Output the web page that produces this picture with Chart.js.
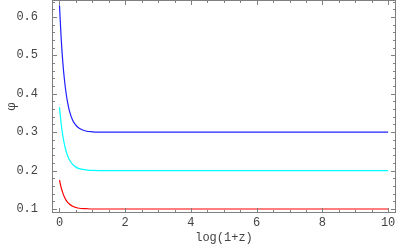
<!DOCTYPE html>
<html><head><meta charset="utf-8">
<script src="https://cdn.jsdelivr.net/npm/chart.js@4"></script>
<style>html,body{margin:0;padding:0;background:#fff}#wrap{width:400px;height:247px}</style>
</head><body><div id="wrap"><canvas id="c" width="400" height="247"></canvas></div>
<script>
const xs = [0, 0.05, 0.1, 0.15, 0.2, 0.25, 0.3, 0.4, 0.5, 0.6, 0.8, 1.0, 1.5, 2, 4, 6, 8, 10];
const blue = [0.630, 0.546, 0.483, 0.437, 0.402, 0.376, 0.356, 0.331, 0.318, 0.310, 0.303, 0.301, 0.300, 0.300, 0.300, 0.300, 0.300, 0.300];
const cyan = [0.365, 0.323, 0.292, 0.268, 0.251, 0.238, 0.228, 0.216, 0.209, 0.205, 0.202, 0.2005, 0.200, 0.200, 0.200, 0.200, 0.200, 0.200];
const red  = [0.175, 0.156, 0.142, 0.131, 0.123, 0.117, 0.113, 0.107, 0.104, 0.102, 0.101, 0.100, 0.100, 0.100, 0.100, 0.100, 0.100, 0.100];
const xTicks = [0, 2, 4, 6, 8, 10];
const yTicks = [0.1, 0.2, 0.3, 0.4, 0.5, 0.6];
const xTitle = 'log(1+z)';
const yTitle = 'φ';

const pts = arr => xs.map((x, i) => ({x: x, y: arr[i]}));
const mono = {family: '"Liberation Mono", "DejaVu Sans Mono", monospace', size: 12};
const txt = '#444';

const frame = {
  id: 'frame',
  afterDatasetsDraw(chart) {
    const {ctx, chartArea: a, scales: {x, y}} = chart;
    ctx.save();
    ctx.strokeStyle = '#808080';
    ctx.lineWidth = 1;
    ctx.strokeRect(a.left + 0.5, a.top + 0.5, a.right - a.left - 1, a.bottom - a.top - 1);
    ctx.beginPath();
    for (let v = -0.5; v <= 10.5; v += 0.5) {
      const px = Math.round(x.getPixelForValue(v)) + 0.5;
      if (px < a.left || px > a.right) continue;
      const len = (Math.abs(v / 2 - Math.round(v / 2)) < 1e-6) ? 5 : 3;
      ctx.moveTo(px, a.bottom); ctx.lineTo(px, a.bottom - len);
      ctx.moveTo(px, a.top); ctx.lineTo(px, a.top + len);
    }
    for (let k = 4; k <= 32; k++) {
      const v = k * 0.02;
      const py = Math.round(y.getPixelForValue(v)) + 0.5;
      if (py < a.top || py > a.bottom) continue;
      const len = (k % 5 === 0) ? 5 : 3;
      ctx.moveTo(a.left, py); ctx.lineTo(a.left + len, py);
      ctx.moveTo(a.right, py); ctx.lineTo(a.right - len, py);
    }
    ctx.stroke();
    ctx.restore();
  }
};

const noPad = s => { s.paddingTop = 0; s.paddingBottom = 0; s.paddingLeft = 0; s.paddingRight = 0; };

new Chart(document.getElementById('c'), {
  type: 'line',
  data: {
    datasets: [
      {data: pts(blue), borderColor: '#2020ff', borderWidth: 1.2, pointRadius: 0, cubicInterpolationMode: 'monotone', fill: false},
      {data: pts(cyan), borderColor: '#00ffff', borderWidth: 1.2, pointRadius: 0, cubicInterpolationMode: 'monotone', fill: false},
      {data: pts(red), borderColor: '#ff0000', borderWidth: 1.2, pointRadius: 0, cubicInterpolationMode: 'monotone', fill: false}
    ]
  },
  options: {
    responsive: false,
    animation: false,
    layout: {padding: {top: 0, right: 4, left: 0, bottom: 0}},
    plugins: {legend: {display: false}, tooltip: {enabled: false}},
    scales: {
      x: {
        type: 'linear', min: -0.228, max: 10.24,
        grid: {display: false}, border: {display: false},
        afterBuildTicks: s => { s.ticks = xTicks.map(v => ({value: v})); },
        afterFit: s => { s.height = 34; noPad(s); },
        ticks: {font: mono, color: txt, padding: -5, maxRotation: 0, callback: v => String(v)},
        title: {display: true, text: xTitle, font: mono, color: txt, padding: {top: 0, bottom: 2}}
      },
      y: {
        type: 'linear', min: 0.0896, max: 0.644,
        grid: {display: false}, border: {display: false},
        afterBuildTicks: s => { s.ticks = yTicks.map(v => ({value: v})); },
        afterFit: s => { s.width = 52; noPad(s); },
        ticks: {font: mono, color: txt, padding: 6, callback: v => v.toFixed(1)},
        title: {display: true, text: yTitle, font: {family: '"DejaVu Serif", serif', size: 12}, color: txt, padding: {top: 5, bottom: 0}}
      }
    }
  },
  plugins: [frame]
});
</script>
</body></html>
